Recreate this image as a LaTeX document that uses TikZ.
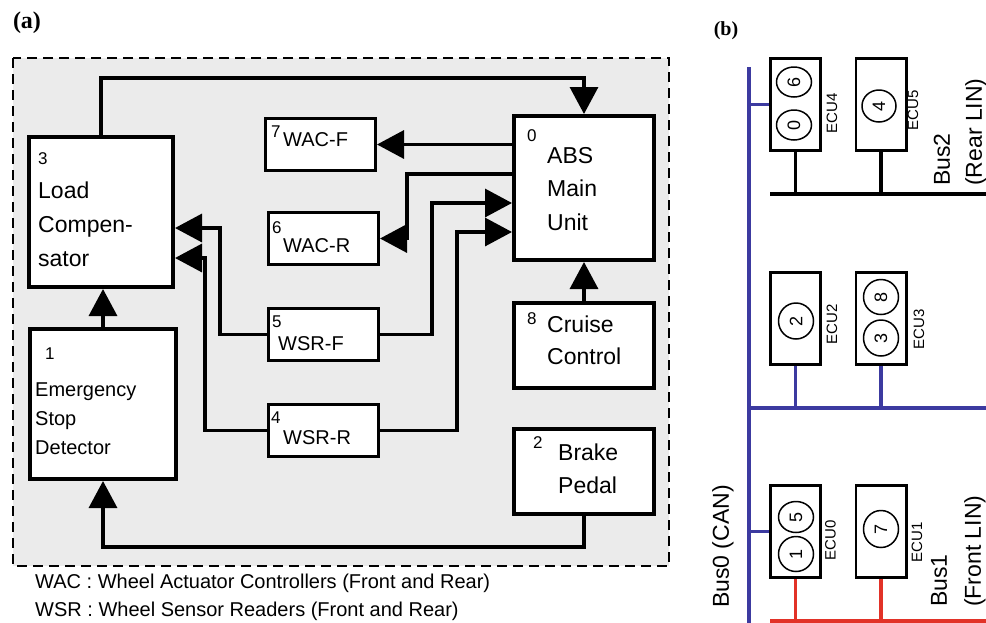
\documentclass[tikz,border=0pt]{standalone}
\usepackage{fontspec}
\setmainfont{Liberation Sans}
\newfontfamily\serifface{Liberation Serif}
\usepackage{graphicx}
\usetikzlibrary{arrows.meta,shapes.geometric}
\definecolor{panelgray}{RGB}{235,235,235}
\definecolor{busblue}{RGB}{60,58,160}
\definecolor{busred}{RGB}{226,50,40}
\newcommand\myfs[1]{\fontsize{#1}{#1}\selectfont}
\tikzset{
  bigbox/.style={draw, line width=4.2pt, fill=white, inner sep=0pt},
  smallbox/.style={draw, line width=3.3pt, fill=white, inner sep=0pt, minimum width=109.7pt, minimum height=51.7pt},
  arr/.style={line width=3.3pt, -{Triangle[length=27pt,width=28pt]}},
  txt/.style={inner sep=0pt, anchor=base west},
  numtxt/.style={txt, font=\myfs{17}},
  bigtxt/.style={txt, font=\myfs{23}},
  midtxt/.style={txt, font=\myfs{20}},
  ecubox/.style={draw, line width=2.6pt, fill=white, inner sep=0pt, minimum width=50.4pt, minimum height=92.4pt},
  proc/.style={ellipse, draw, line width=1.5pt, inner sep=0pt, font=\myfs{18}},
  eculbl/.style={inner sep=0pt, rotate=90, font=\myfs{15}},
  buslbl/.style={inner sep=0pt, rotate=90, anchor=west, font=\myfs{23}},
  bline/.style={line width=3.2pt},
}
\begin{document}
\begin{tikzpicture}[x=1pt,y=-1pt]
\useasboundingbox (0,0) rectangle (986,622);

% ---------- panel (a) ----------
\node[font=\serifface\bfseries\myfs{24}, inner sep=0pt] (lbla) at (27,23) {(a)};
\draw[fill=panelgray, line width=2.4pt, dash pattern=on 10pt off 6pt] (13,58) rectangle (669,566);

\node[bigbox, minimum width=143.8pt, minimum height=149.8pt] (n3) at (101,212) {};
\node[bigbox, minimum width=145.8pt, minimum height=149.8pt] (n1) at (103,404) {};
\node[bigbox, minimum width=139.8pt, minimum height=143.8pt] (n0) at (584,188) {};
\node[bigbox, minimum width=139.8pt, minimum height=84.8pt] (n8) at (584,345.5) {};
\node[bigbox, minimum width=139.8pt, minimum height=84.8pt] (n2) at (584,471.5) {};
\node[smallbox] (n7) at (320.5,144.5) {};
\node[smallbox] (n6) at (323.5,238.5) {};
\node[smallbox] (n5) at (323.5,334.5) {};
\node[smallbox] (n4) at (323.5,430.5) {};

% texts
\node[numtxt] (t3n) at (38,164) {3};
\node[bigtxt] (t3a) at (38,198) {Load};
\node[bigtxt] (t3b) at (38,232) {Compen-};
\node[bigtxt] (t3c) at (38,266) {sator};

\node[numtxt] (t1n) at (45,359) {1};
\node[midtxt] (t1a) at (35,396) {Emergency};
\node[midtxt] (t1b) at (35,425) {Stop};
\node[midtxt] (t1c) at (35,454) {Detector};

\node[numtxt] (t7n) at (271,137) {7};
\node[midtxt] (t7a) at (283,146) {WAC-F};
\node[numtxt] (t6n) at (272,233) {6};
\node[midtxt] (t6a) at (283,252) {WAC-R};
\node[numtxt] (t5n) at (272,327) {5};
\node[midtxt] (t5a) at (278,350) {WSR-F};
\node[numtxt] (t4n) at (271,423) {4};
\node[midtxt] (t4a) at (283,444) {WSR-R};

\node[numtxt] (t0n) at (527,141.5) {0};
\node[bigtxt] (t0a) at (547,163) {ABS};
\node[bigtxt] (t0b) at (547,196.5) {Main};
\node[bigtxt] (t0c) at (547,230) {Unit};

\node[numtxt] (t8n) at (527,324) {8};
\node[bigtxt] (t8a) at (547,332) {Cruise};
\node[bigtxt] (t8b) at (547,364) {Control};

\node[numtxt] (t2n) at (533,448) {2};
\node[bigtxt] (t2a) at (558,460) {Brake};
\node[bigtxt] (t2b) at (558,493) {Pedal};

\node[midtxt] (capa) at (35,588) {WAC : Wheel Actuator Controllers (Front and Rear)};
\node[midtxt] (capb) at (35,616) {WSR : Wheel Sensor Readers (Front and Rear)};

% connectors
\coordinate (ytop) at (0,78);
\draw[arr] (n3.north) -- (n3.north |- ytop) -| (n0.north);
\draw[arr] (n0.west |- n7.east) -- (n7.east);
\coordinate (j6) at (407,174);
\draw[arr] (n0.west |- j6) -- (j6) |- (n6.east);
\coordinate (j5) at (432,203);
\draw[arr] (n5.east) -| (j5) -- (n0.west |- j5);
\coordinate (j4) at (457,232);
\draw[arr] (n4.east) -| (j4) -- (n0.west |- j4);
\coordinate (k5) at (220,228);
\draw[arr] (n5.west) -| (k5) -- (n3.east |- k5);
\coordinate (k4) at (205,258);
\draw[arr] (n4.west) -| (k4) -- (n3.east |- k4);
\draw[arr] (n1.north) -- (n1.north |- n3.south);
\draw[arr] (n8.north) -- (n0.south);
\coordinate (ybot) at (0,547);
\draw[arr] (n2.south) -- (n2.south |- ybot) -| (n1.south);

% ---------- panel (b) ----------
\node[font=\serifface\bfseries\myfs{20}, inner sep=0pt] (lblb) at (726,31) {(b)};

\coordinate (b0t) at (749,67);
\coordinate (b0b) at (749,626);
\coordinate (bmidl) at (749,408);
\coordinate (bmidr) at (990,408);
\coordinate (b2l) at (770,194);
\coordinate (b2r) at (990,194);
\coordinate (b1l) at (770,621);
\coordinate (b1r) at (990,621);

\node[ecubox] (e4) at (795.5,104.5) {};
\node[ecubox] (e5) at (881,104.5) {};
\node[ecubox] (e2) at (795.5,318.5) {};
\node[ecubox] (e3) at (881,318.5) {};
\node[ecubox] (e0) at (795.5,531.5) {};
\node[ecubox] (e1) at (881,531.5) {};

% buses
\draw[bline, busblue] (b0t) -- (b0b);
\draw[bline, busblue] (bmidl) -- (bmidr);
\draw[bline, busblue] (e4.west) -- (e4.west -| b0t);
\draw[bline, busblue] (e0.west) -- (e0.west -| b0t);
\draw[bline, busblue] (e2.south) -- (e2.south |- bmidl);
\draw[bline, busblue] (e3.south) -- (e3.south |- bmidl);
\draw[bline, black, line width=3.5pt] (b2l) -- (b2r);
\draw[bline, black] (e4.south) -- (e4.south |- b2l);
\draw[bline, black] (e5.south) -- (e5.south |- b2l);
\draw[bline, busred, line width=3.5pt] (b1l) -- (b1r);
\draw[bline, busred] (e0.south) -- (e0.south |- b1l);
\draw[bline, busred] (e1.south) -- (e1.south |- b1l);

% processes
\node[proc, minimum width=35pt, minimum height=30pt] (p6) at (794,82) {\rotatebox{90}{6}};
\node[proc, minimum width=35pt, minimum height=30pt] (p0) at (794,125) {\rotatebox{90}{0}};
\node[proc, minimum width=34pt, minimum height=32pt] (p4) at (879,106) {\rotatebox{90}{4}};
\node[proc, minimum width=35pt, minimum height=36pt] (p2) at (796,321) {\rotatebox{90}{2}};
\node[proc, minimum width=35pt, minimum height=35pt] (p8) at (881,297) {\rotatebox{90}{8}};
\node[proc, minimum width=35pt, minimum height=36pt] (p3) at (881,338) {\rotatebox{90}{3}};
\node[proc, minimum width=35pt, minimum height=31pt] (p5) at (796,517) {\rotatebox{90}{5}};
\node[proc, minimum width=35pt, minimum height=35pt] (p1) at (796,554) {\rotatebox{90}{1}};
\node[proc, minimum width=35pt, minimum height=37pt] (p7) at (881,529) {\rotatebox{90}{7}};

% ECU labels
\node[eculbl] (l4) at (832,113) {ECU4};
\node[eculbl] (l5) at (913,110) {ECU5};
\node[eculbl] (l2) at (832,324) {ECU2};
\node[eculbl] (l3) at (919,329) {ECU3};
\node[eculbl] (l0) at (830.5,540) {ECU0};
\node[eculbl] (l1) at (917,542) {ECU1};

% bus labels
\node[buslbl] (lb0) at (723,608) {Bus0 (CAN)};
\node[buslbl] (lb2a) at (942,186) {Bus2};
\node[buslbl] (lb2b) at (976,186) {(Rear LIN)};
\node[buslbl] (lb1a) at (939,607) {Bus1};
\node[buslbl] (lb1b) at (975,607) {(Front LIN)};
\end{tikzpicture}
\end{document}
